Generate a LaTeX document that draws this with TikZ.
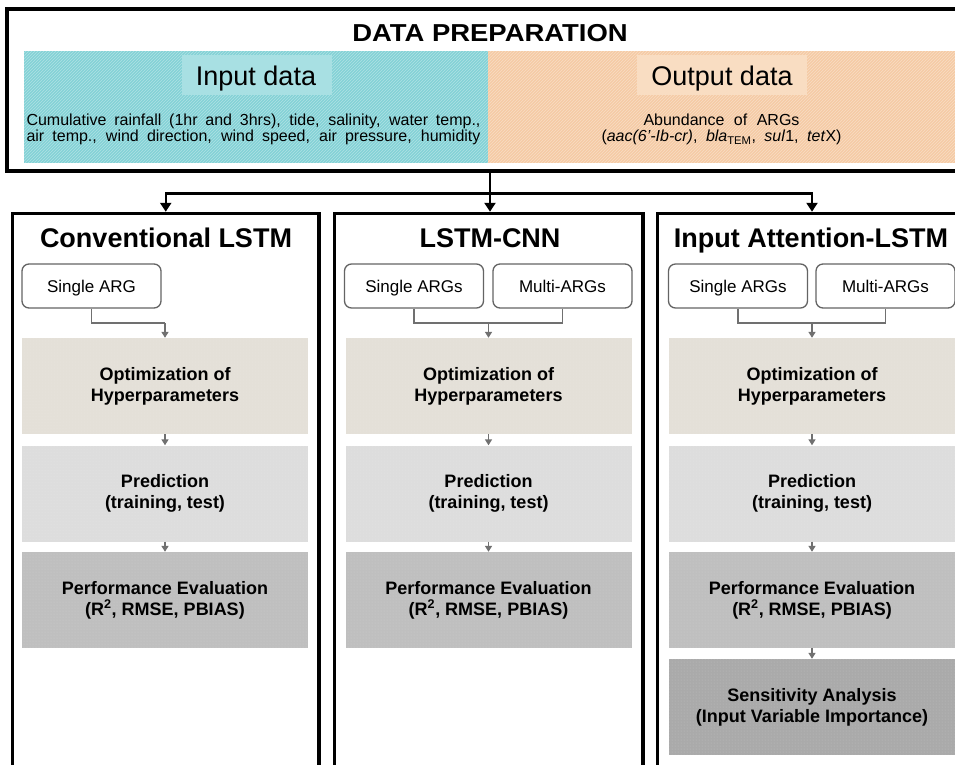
\documentclass[tikz,border=0pt]{standalone}
\usepackage{fontspec}
\setmainfont{Liberation Sans}
\newfontfamily\titlefont[FakeStretch=1.12]{Liberation Sans}
\usetikzlibrary{arrows.meta,patterns}

\definecolor{inband}{RGB}{132,210,214}
\definecolor{inlight}{RGB}{168,224,227}
\definecolor{outband}{RGB}{245,203,165}
\definecolor{outlight}{RGB}{249,221,194}
\definecolor{optfill}{RGB}{228,224,216}
\definecolor{predfill}{RGB}{221,221,221}
\definecolor{perffill}{RGB}{191,191,191}
\definecolor{sensfill}{RGB}{170,170,170}
\definecolor{connector}{RGB}{112,112,112}
\definecolor{argline}{RGB}{100,100,100}

% a line of band text spread to a fixed width
\newcommand{\spreadline}[2]{\makebox[#1pt][s]{#2}}

\tikzset{
  frame/.style={draw=black, line width=3.5, fill=white, inner sep=0},
  paneltitle/.style={anchor=base, font=\fontsize{27}{32}\selectfont\bfseries},
  bandtext/.style={inner sep=0, align=center,
    font=\fontsize{16}{16.5}\selectfont},
  argbox/.style={draw=argline, line width=1.3, rounded corners=7, fill=white,
    minimum width=139, minimum height=44, inner sep=0,
    text height=13, text depth=0,
    font=\fontsize{17}{20}\selectfont},
  procbox/.style={minimum width=286, minimum height=96, inner sep=0,
    align=center, font=\fontsize{18}{21}\selectfont\bfseries},
  texture/.style={pattern=dots, pattern color=white, opacity=0.25},
  hatch/.style={pattern=north east lines, pattern color=white, opacity=0.35},
  mainarrow/.style={draw=black, line width=2.5,
    -{Triangle[width=11,length=9]}},
  mainline/.style={draw=black, line width=2.5},
  flowline/.style={draw=connector, line width=1.6},
  flowarrow/.style={draw=connector, line width=1.6,
    -{Triangle[width=7,length=6]}},
}

\begin{document}
\begin{tikzpicture}[x=1pt,y=-1pt]
\useasboundingbox (0,0) rectangle (955,764);
\clip (0,0) rectangle (955,764);

% ---------- data preparation block ----------
\node[frame, minimum width=955, minimum height=162] (prep) at (484.5,90) {};
\fill[inband]  (24,51) rectangle (488,163);
\fill[outband] (488,51) rectangle (955,163);
\fill[hatch]   (24,51) rectangle (955,163);
\fill[inlight]  (182,55) rectangle (332,95);
\fill[outlight] (637,55) rectangle (807,95);
\node[anchor=base, font=\titlefont\bfseries\fontsize{24.5}{28}\selectfont] (title) at (490,41.5) {DATA PREPARATION};
\node[anchor=base, font=\fontsize{27}{30}\selectfont] (inhead) at (256,85) {Input data};
\node[anchor=base, font=\fontsize{27}{30}\selectfont] (outhead) at (722,85) {Output data};
\node[bandtext] (intext) at (253.5,129.5)
  {\spreadline{454}{Cumulative rainfall (1hr and 3hrs), tide, salinity, water temp.,}\\
   \spreadline{454}{air temp., wind direction, wind speed, air pressure, humidity}};
\node[bandtext] (outtext) at (721.5,129.5)
  {\spreadline{156}{Abundance of ARGs}\\
   \spreadline{240}{(\textit{aac(6’-Ib-cr)}, \textit{bla}\textsubscript{TEM}, \textit{sul}1, \textit{tet}X)}};

% ---------- model panels ----------
\node[frame, minimum width=306.5, minimum height=590] (p1) at (165.75,508.5) {};
\node[frame, minimum width=308.5, minimum height=590] (p2) at (488.75,508.5) {};
\node[frame, minimum width=309,   minimum height=590] (p3) at (812,508.5) {};

\node[paneltitle] (t1) at (166,247) {Conventional LSTM};
\node[paneltitle] (t2) at (490,247) {LSTM-CNN};
\node[paneltitle] (t3) at (811,247) {Input Attention-LSTM};

% ---------- distribution from the data block ----------
\coordinate (hub) at (490,193.5);
\draw[mainline]  (hub |- prep.south) -- (hub);
\draw[mainarrow] (hub) -- (hub |- p2.north);
\draw[mainarrow] (hub) -| (p1.north);
\draw[mainarrow] (hub) -| (p3.north);

% ---------- ARG selection boxes ----------
\node[argbox] (s1) at (91.5,286) {Single ARG};
\node[argbox] (s2) at (414,286) {Single ARGs};
\node[argbox] (m2) at (562.5,286) {Multi-ARGs};
\node[argbox] (s3) at (738,286) {Single ARGs};
\node[argbox] (m3) at (885.5,286) {Multi-ARGs};

% ---------- processing steps (fill, then texture, then label) ----------
\foreach \c/\x in {1/165, 2/488.5, 3/812} {
  \node[procbox, fill=optfill]  (o\c) at (\x,386)   {};
  \fill[texture] (o\c.south west) rectangle (o\c.north east);
  \node[procbox] at (o\c) {Optimization of\\Hyperparameters};
  \node[procbox, fill=predfill] (r\c) at (\x,493.5) {};
  \fill[texture] (r\c.south west) rectangle (r\c.north east);
  \node[procbox] at (r\c) {Prediction\\(training, test)};
  \node[procbox, fill=perffill] (e\c) at (\x,600)   {};
  \fill[texture] (e\c.south west) rectangle (e\c.north east);
  \node[procbox] at (e\c) {Performance Evaluation\\(R\textsuperscript{2}, RMSE, PBIAS)};
}
\node[procbox, fill=sensfill] (v3) at (812,707) {};
\fill[texture] (v3.south west) rectangle (v3.north east);
\node[procbox] at (v3) {Sensitivity Analysis\\(Input Variable Importance)};

% ---------- connectors inside panels ----------
\coordinate (j1) at (165,323);
\coordinate (j2) at (488.5,323);
\coordinate (j3) at (812,323);
\draw[flowline] (s1.south) |- (j1);
\draw[flowline] (s2.south) |- (j2);
\draw[flowline] (m2.south) |- (j2);
\draw[flowline] (s3.south) |- (j3);
\draw[flowline] (m3.south) |- (j3);
\foreach \c in {1,2,3} {
  \draw[flowarrow] (j\c) -- (o\c.north);
  \draw[flowarrow] (o\c.south) -- (r\c.north);
  \draw[flowarrow] (r\c.south) -- (e\c.north);
}
\draw[flowarrow] (e3.south) -- (v3.north);
\end{tikzpicture}
\end{document}
